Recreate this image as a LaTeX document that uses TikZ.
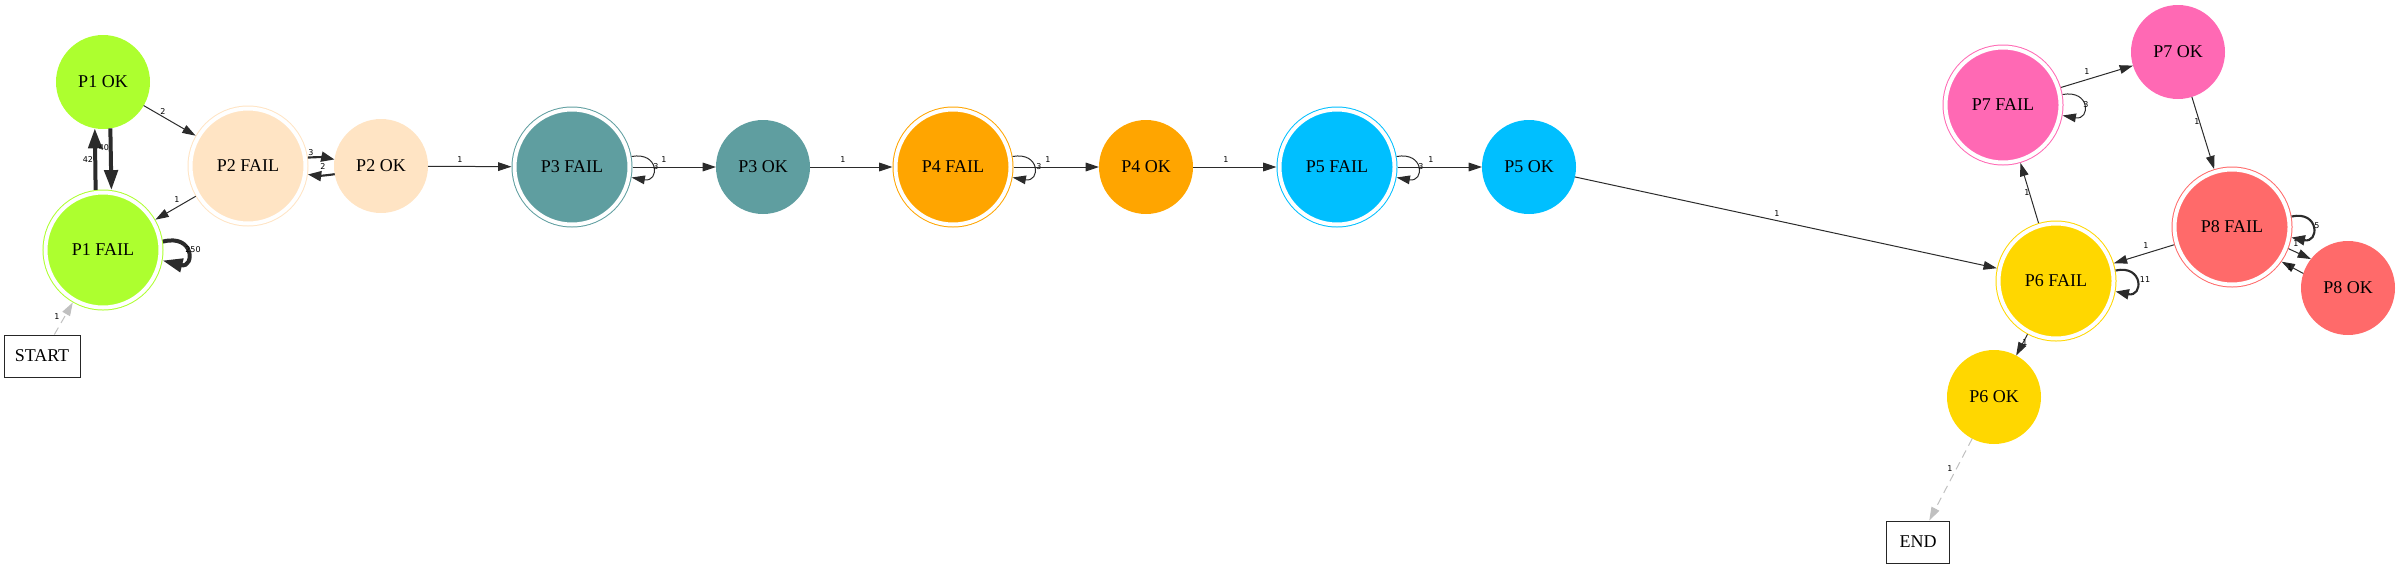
\documentclass[tikz,border=0pt]{standalone}
\usepackage{fontspec}
\setmainfont{Liberation Serif}
\setsansfont{DejaVu Sans}
\usetikzlibrary{arrows.meta}
\definecolor{cP1}{HTML}{ADFF2F}
\definecolor{cP2}{HTML}{FFE4C4}
\definecolor{cP3}{HTML}{5F9EA0}
\definecolor{cP4}{HTML}{FFA500}
\definecolor{cP5}{HTML}{00BFFF}
\definecolor{cP6}{HTML}{FFD700}
\definecolor{cP7}{HTML}{FF69B4}
\definecolor{cP8}{HTML}{FF6A6A}
\definecolor{edgec}{HTML}{2B2B2B}
\definecolor{ghost}{HTML}{C0C0C0}
\tikzset{
  okstate/.style={circle, fill=#1, minimum size=70.5pt, inner sep=0pt, outer sep=0pt,
    font=\fontsize{13.5}{16}\selectfont},
  failstate/.style={circle, fill=#1, draw=#1, double=white, double distance=3pt, line width=0.75pt,
    minimum size=86.25pt, inner sep=0pt, outer sep=2.25pt, font=\fontsize{13.5}{16}\selectfont},
  termbox/.style={draw=black!85, line width=0.75pt, fill=white, minimum width=#1, minimum height=31.5pt,
    inner sep=0pt, font=\fontsize{13.5}{16}\selectfont},
  lbl/.style={font=\sffamily\fontsize{6}{7}\selectfont, text=black, inner sep=0pt},
  tedge/.style={draw=edgec, line width=0.75pt, -{Triangle[length=10pt,width=6.5pt]}},
  medge/.style={draw=edgec, line width=1.6pt, -{Triangle[length=10pt,width=7.5pt]}},
  bedge/.style={draw=edgec, line width=3pt, -{Triangle[length=15pt,width=10pt]}},
  gedge/.style={draw=ghost, line width=0.75pt, dashed, dash pattern=on 6pt off 4pt, -{Triangle[length=10pt,width=6.5pt,fill=ghost]}},
}
\begin{document}
\begin{tikzpicture}[x=0.75pt, y=-0.75pt]
\useasboundingbox (0,0) rectangle (2400,568);
% nodes
\node[okstate=cP1] (p1ok) at (103,82) {P1 OK};
\node[failstate=cP1] (p1f) at (103,250) {P1 FAIL};
\node[failstate=cP2] (p2f) at (248,166) {P2 FAIL};
\node[okstate=cP2] (p2ok) at (381,166) {P2 OK};
\node[termbox=57pt] (start) at (42,356) {START};
\node[failstate=cP3] (p3f) at (572,167) {P3 FAIL};
\node[okstate=cP3] (p3ok) at (763,167) {P3 OK};
\node[failstate=cP4] (p4f) at (953,167) {P4 FAIL};
\node[okstate=cP4] (p4ok) at (1146,167) {P4 OK};
\node[failstate=cP5] (p5f) at (1337,167) {P5 FAIL};
\node[okstate=cP5] (p5ok) at (1529,167) {P5 OK};
\node[failstate=cP6] (p6f) at (2056,281) {P6 FAIL};
\node[okstate=cP6] (p6ok) at (1994,397) {P6 OK};
\node[failstate=cP7] (p7f) at (2003,105) {P7 FAIL};
\node[okstate=cP7] (p7ok) at (2178,52) {P7 OK};
\node[failstate=cP8] (p8f) at (2232,227) {P8 FAIL};
\node[okstate=cP8] (p8ok) at (2348,288) {P8 OK};
\node[termbox=47pt] (end) at (1918,542) {END};
% edges
\draw[gedge] (start) -- (p1f) node[lbl, at={(57,317)}] {1};
\draw[bedge] (p1f.97.7) -- (p1ok.260.2) node[lbl, at={(88,160)}] {42};
\draw[bedge] (p1ok.279.8) -- (p1f.82.3) node[lbl, at={(104,148)}] {40};
\draw[bedge] (p1f.8) .. controls +(32,-8) and +(32,8) .. (p1f.-10) node[lbl, at={(193,250)}] {250};
\draw[tedge] (p1ok) -- (p2f) node[lbl, at={(163,112)}] {2};
\draw[tedge] (p2f) -- (p1f) node[lbl, at={(177,200)}] {1};
\draw[medge] (p2f.8) to[bend left=8] (p2ok.172) node[lbl, at={(311,153)}] {3};
\draw[medge] (p2ok.190) to[bend left=8] (p2f.-8) node[lbl, at={(323,167)}] {2};
\draw[tedge] (p2ok) -- (p3f) node[lbl, at={(460,160)}] {1};
\draw[tedge] (p3f.10) .. controls +(28,-5) and +(28,5) .. (p3f.-10) node[lbl, at={(656,167)}] {3};
\draw[tedge] (p3f) -- (p3ok) node[lbl, at={(664,160)}] {1};
\draw[tedge] (p3ok) -- (p4f) node[lbl, at={(843,160)}] {1};
\draw[tedge] (p4f.10) .. controls +(28,-5) and +(28,5) .. (p4f.-10) node[lbl, at={(1039,167)}] {3};
\draw[tedge] (p4f) -- (p4ok) node[lbl, at={(1048,160)}] {1};
\draw[tedge] (p4ok) -- (p5f) node[lbl, at={(1226,160)}] {1};
\draw[tedge] (p5f.10) .. controls +(28,-5) and +(28,5) .. (p5f.-10) node[lbl, at={(1421,167)}] {3};
\draw[tedge] (p5f) -- (p5ok) node[lbl, at={(1431,160)}] {1};
\draw[tedge] (p5ok) -- (p6f) node[lbl, at={(1777,214)}] {1};
\draw[medge] (p6f.10) .. controls +(28,-6) and +(28,6) .. (p6f.-10) node[lbl, at={(2145,280)}] {11};
\draw[tedge] (p6f) -- (p7f) node[lbl, at={(2027,193)}] {1};
\draw[tedge] (p7f.10) .. controls +(28,-5) and +(28,5) .. (p7f.-10) node[lbl, at={(2086,105)}] {3};
\draw[tedge] (p7f) -- (p7ok) node[lbl, at={(2087,72)}] {1};
\draw[tedge] (p7ok) -- (p8f) node[lbl, at={(2197,122)}] {1};
\draw[medge] (p8f.10) .. controls +(28,-6) and +(28,6) .. (p8f.-10) node[lbl, at={(2317,226)}] {5};
\draw[tedge] (p8f) -- (p6f) node[lbl, at={(2146,246)}] {1};
\draw[tedge] (p8f.-21) -- (p8ok.142) node[lbl, at={(2296,244)}] {1};
\draw[tedge] (p8ok.162) -- (p8f.-35) node[lbl, at={(2290,268)}] {1};
\draw[tedge] (p6f) -- (p6ok) node[lbl, at={(2025,343)}] {1};
\draw[gedge] (p6ok) -- (end) node[lbl, at={(1950,469)}] {1};
\end{tikzpicture}
\end{document}
